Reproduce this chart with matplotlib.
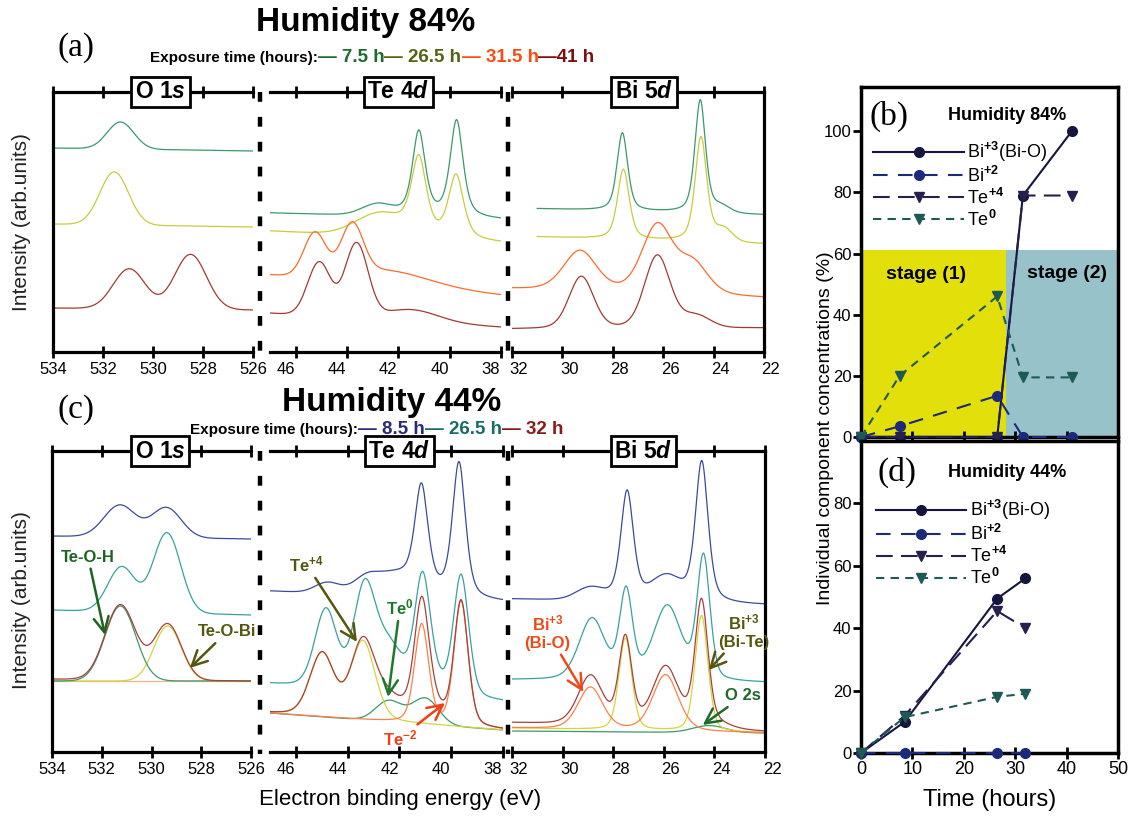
import numpy as np
import matplotlib
matplotlib.use('Agg')
import matplotlib.pyplot as plt
import matplotlib.transforms as mtransforms
from matplotlib.lines import Line2D

plt.rcParams['font.family'] = ['Liberation Sans', 'DejaVu Sans']
plt.rcParams['mathtext.fontset'] = 'custom'
plt.rcParams['mathtext.rm'] = 'Liberation Sans:bold'
plt.rcParams['mathtext.it'] = 'Liberation Sans:bold:italic'
plt.rcParams['mathtext.bf'] = 'Liberation Sans:bold'

# ---------------- data ----------------
# spectra: background (left, right) and peaks [position eV, amplitude, FWHM eV, lorentz fraction]
# (a) Humidity 84 %  (times 7.5, 26.5, 31.5, 41 h)
o1s_a_75_bg = [204, 201]
o1s_a_75_pk = [[531.3, 27, 1.25, 0.0]]
o1s_a_265_bg = [128, 125]
o1s_a_265_pk = [[531.55, 53, 1.35, 0.0]]
o1s_a_41_bg = [44, 42]
o1s_a_41_pk = [[530.95, 40, 1.5, 0.0], [528.5, 55, 1.5, 0.0]]

te_a_75_bg = [139, 132]
te_a_75_pk = [[42.8, 11, 1.4, 0.0], [41.2, 85, 0.6, 0.6], [39.73, 97, 0.6, 0.6]]
te_a_265_bg = [121, 109]
te_a_265_pk = [[42.7, 22, 2.2, 0.0], [41.2, 76, 0.7, 0.6], [39.75, 64, 0.7, 0.6]]
te_a_315_bg = [77, 57]
te_a_315_pk = [[45.25, 43, 1.0, 0.0], [43.8, 49, 1.0, 0.0], [42.5, 15, 4.0, 0.0]]
te_a_41_bg = [39, 25]
te_a_41_pk = [[45.08, 54, 1.05, 0.0], [43.63, 74, 1.05, 0.0], [41.5, 12, 2.5, 0.0]]

bi_a_75_bg = [144, 137]
bi_a_75_pk = [[27.62, 78, 0.5, 0.5], [24.53, 113, 0.5, 0.5], [23.7, 6, 0.8, 0.0]]
bi_a_265_bg = [116, 108]
bi_a_265_pk = [[27.58, 70, 0.55, 0.5], [24.5, 105, 0.55, 0.5], [23.6, 12, 0.8, 0.0]]
bi_a_315_bg = [63, 54]
bi_a_315_pk = [[29.3, 40, 1.55, 0.3], [26.23, 68, 1.45, 0.3], [24.8, 30, 1.4, 0.3]]
bi_a_41_bg = [23, 24]
bi_a_41_pk = [[29.25, 52, 1.15, 0.2], [26.23, 73, 1.2, 0.2], [24.7, 12, 1.3, 0.0]]
bi_a_start = 31.0

# (c) Humidity 44 %  (times 8.5, 26.5, 32 h) + fitted components of 32 h
o1s_c_85_bg = [216, 213]
o1s_c_85_pk = [[531.27, 32, 1.5, 0.0], [529.4, 30, 1.4, 0.0]]
o1s_c_265_bg = [142, 137]
o1s_c_265_pk = [[531.2, 45, 1.3, 0.0], [529.38, 80, 1.3, 0.0]]
o1s_c_32_bg = [73, 71]
o1s_c_32_pk = [[531.25, 75, 1.45, 0.0], [529.35, 56, 1.3, 0.0]]
o1s_fit_bg = [71, 71]
o1s_teoh_pk = [[531.25, 75, 1.45, 0.0]]
o1s_teobi_pk = [[529.35, 55, 1.3, 0.0]]

te_c_85_bg = [161, 150]
te_c_85_pk = [[44.8, 10, 1.1, 0.0], [43.3, 8, 1.0, 0.0], [42.2, 22, 2.5, 0.0],
              [41.15, 99, 0.6, 0.5], [39.7, 135, 0.6, 0.5]]
te_c_265_bg = [68, 50]
te_c_265_pk = [[44.84, 78, 1.0, 0.2], [43.35, 102, 1.0, 0.2], [42.4, 43, 1.2, 0.0],
               [41.0, 20, 1.2, 0.0], [41.11, 100, 0.7, 0.3], [39.62, 122, 0.7, 0.3]]
te_fit_bg = [39, 22]
te_p4_pk = [[44.99, 63, 1.1, 0.2], [43.41, 78, 1.1, 0.2]]
te_0_pk = [[42.4, 21, 1.2, 0.0], [41.0, 26, 1.2, 0.0]]
te_m2_pk = [[41.14, 99, 0.64, 0.3], [39.62, 125, 0.64, 0.3]]

bi_c_85_bg = [153, 147]
bi_c_85_pk = [[28.9, 12, 1.3, 0.0], [27.45, 110, 0.6, 0.5], [25.9, 24, 1.4, 0.0], [24.5, 141, 0.6, 0.5]]
bi_c_265_bg = [72, 69]
bi_c_265_pk = [[28.84, 61, 1.2, 0.3], [27.49, 87, 0.6, 0.3], [25.86, 74, 1.3, 0.3], [24.43, 123, 0.6, 0.3]]
bi_c_32_bg = [29, 20]
bi_c_32_pk = [[28.9, 49, 1.15, 0.3], [27.52, 87, 0.6, 0.3], [25.93, 60, 1.2, 0.3],
              [24.51, 122, 0.6, 0.3], [24.2, 6, 1.5, 0.0]]
bi_fit_bg = [24, 19]
bi_bio_pk = [[28.9, 42, 1.15, 0.3], [25.93, 56, 1.2, 0.3]]
bi_bite_pk = [[27.52, 92, 0.6, 0.3], [24.51, 116, 0.6, 0.3]]
o2s_bg = [21, 19]
o2s_pk = [[24.2, 7, 1.5, 0.0]]

# (b) / (d) component concentrations (%)
b_time = [0, 7.5, 26.5, 31.5, 41]
b_bi3 = [0, 0, 0, 79, 100]
b_bi2 = [0, 3.5, 13.5, 0, 0]
b_te4 = [0, 0, 0, 79, 79]
b_te0 = [0, 20, 46, 19.5, 19.5]
stage_split = 28.2
stage_top = 61.3

d_time = [0, 8.5, 26.5, 32]
d_bi3 = [0, 10, 49.5, 56]
d_bi2 = [0, 0, 0, 0]
d_te4 = [0, 12, 45.5, 40]
d_te0 = [0, 11.5, 18, 19]

comp_labels = ['Bi$^{+3}$(Bi-O)', 'Bi$^{+2}$', 'Te$^{+4}$', 'Te$^{0}$']
o1s_ticks = [534, 532, 530, 528, 526]
te_ticks = [46, 44, 42, 40, 38]
bi_ticks = [32, 30, 28, 26, 24, 22]

# ---------------- figure ----------------
W, H = 1130, 817
fig = plt.figure(figsize=(W / 100, H / 100), dpi=100)


def px_rect(x0, y0, x1, y1):
    return [x0 / W, 1 - y1 / H, (x1 - x0) / W, (y1 - y0) / H]


def pv(E, peaks):
    y = np.zeros_like(E)
    for c, a, w, eta in peaks:
        d = (E - c) / w
        y += a * (eta / (1 + 4 * d ** 2) + (1 - eta) * np.exp(-4 * np.log(2) * d ** 2))
    return y


def spectrum(ax, bg, peaks, color, lw=0.9, start=None):
    x0, x1 = ax.get_xlim()
    hi = x0 if start is None else start
    E = np.linspace(x1, hi, 900)
    base = bg[1] + (bg[0] - bg[1]) * (E - x1) / (x0 - x1)
    ax.plot(E, base + pv(E, peaks), color=color, lw=lw)


def spec_axes(rect, xlim, ylim, ticks, left, right, title, title_x, label_dx=0):
    ax = fig.add_axes(rect)
    ax.set_xlim(*xlim)
    ax.set_ylim(*ylim)
    ax.set_xticks(ticks)
    ax.set_yticks([])
    ax.tick_params(axis='x', direction='inout', length=9, width=2, top=True,
                   labeltop=False, labelsize=12, pad=3)
    for s in ['top', 'bottom', 'left', 'right']:
        ax.spines[s].set_linewidth(2.3)
    ax.spines['left'].set_visible(left)
    ax.spines['right'].set_visible(right)
    ax.patch.set_alpha(0)
    if label_dx:
        off = mtransforms.ScaledTranslation(label_dx / 100, 0, fig.dpi_scale_trans)
        for lab in ax.get_xticklabels():
            lab.set_transform(lab.get_transform() + off)
    ax.text(title_x, 1.0, title, transform=ax.get_xaxis_transform(), ha='center', va='center',
            fontsize=16.5, fontweight='bold', zorder=10,
            bbox=dict(boxstyle='square,pad=0.16', fc='white', ec='black', lw=2))
    return ax


def separator(x, y0, y1):
    fig.add_artist(Line2D([x / W, x / W], [1 - y0 / H, 1 - y1 / H], transform=fig.transFigure,
                          lw=3.2, ls=(0, (2.2, 3.4)), color='black'))


def note(ax, text, xy, xytext, color):
    ax.annotate(text, xy=xy, xytext=xytext, color=color, fontsize=12, fontweight='bold',
                ha='center', va='center', multialignment='center', annotation_clip=False,
                arrowprops=dict(arrowstyle='->,head_length=0.9,head_width=0.45', color=color,
                                lw=1.8, shrinkA=1, shrinkB=0))


A_COL = ['#3a9a6c', '#c9cc3c', '#ff6a2a', '#a23a32']
C_COL = ['#3a4b9e', '#3aa0a0', '#a8403c']
YEL = '#d4d43c'
GRN = '#3a9a6a'
ORG = '#ff7f45'

# ----- (a) row -----
ya0, ya1 = 92, 352
ax_o_a = spec_axes(px_rect(53, ya0, 253, ya1), (534, 526), (0, 260), o1s_ticks, True, False, 'O 1$s$', 529.7)
ax_t_a = spec_axes(px_rect(270, ya0, 501, ya1), (47, 38), (0, 260), te_ticks, False, False, 'Te 4$d$', 42.0, -10)
ax_b_a = spec_axes(px_rect(512, ya0, 764, ya1), (32, 22), (0, 260), bi_ticks, False, True, 'Bi 5$d$', 26.75, 7)

spectrum(ax_o_a, o1s_a_75_bg, o1s_a_75_pk, A_COL[0])
spectrum(ax_o_a, o1s_a_265_bg, o1s_a_265_pk, A_COL[1])
spectrum(ax_o_a, o1s_a_41_bg, o1s_a_41_pk, A_COL[3])

spectrum(ax_t_a, te_a_75_bg, te_a_75_pk, A_COL[0])
spectrum(ax_t_a, te_a_265_bg, te_a_265_pk, A_COL[1])
spectrum(ax_t_a, te_a_315_bg, te_a_315_pk, A_COL[2])
spectrum(ax_t_a, te_a_41_bg, te_a_41_pk, A_COL[3])

spectrum(ax_b_a, bi_a_75_bg, bi_a_75_pk, A_COL[0], start=bi_a_start)
spectrum(ax_b_a, bi_a_265_bg, bi_a_265_pk, A_COL[1], start=bi_a_start)
spectrum(ax_b_a, bi_a_315_bg, bi_a_315_pk, A_COL[2])
spectrum(ax_b_a, bi_a_41_bg, bi_a_41_pk, A_COL[3])

separator(260, ya0, ya1 + 2)
separator(507.5, ya0, ya1 + 2)

# ----- (c) row -----
yc0, yc1 = 451, 752
ax_o_c = spec_axes(px_rect(52, yc0, 251, yc1), (534, 526), (0, 301), o1s_ticks, True, False, 'O 1$s$', 529.66)
ax_t_c = spec_axes(px_rect(270, yc0, 503, yc1), (47, 38), (0, 301), te_ticks, False, False, 'Te 4$d$', 42.0, -10)
ax_b_c = spec_axes(px_rect(512, yc0, 765, yc1), (32, 22), (0, 301), bi_ticks, False, True, 'Bi 5$d$', 26.8, 7)

spectrum(ax_o_c, o1s_c_85_bg, o1s_c_85_pk, C_COL[0])
spectrum(ax_o_c, o1s_c_265_bg, o1s_c_265_pk, C_COL[1])
spectrum(ax_o_c, o1s_fit_bg, [], '#f4b090', lw=0.9)
spectrum(ax_o_c, o1s_fit_bg, o1s_teobi_pk, YEL)
spectrum(ax_o_c, o1s_fit_bg, o1s_teoh_pk, GRN)
spectrum(ax_o_c, o1s_c_32_bg, o1s_c_32_pk, C_COL[2])

spectrum(ax_t_c, te_c_85_bg, te_c_85_pk, C_COL[0])
spectrum(ax_t_c, te_c_265_bg, te_c_265_pk, C_COL[1])
spectrum(ax_t_c, te_fit_bg, te_0_pk, GRN)
spectrum(ax_t_c, te_fit_bg, te_p4_pk, YEL)
spectrum(ax_t_c, te_fit_bg, te_m2_pk, ORG)
spectrum(ax_t_c, te_fit_bg, te_p4_pk + te_0_pk + te_m2_pk, C_COL[2])

spectrum(ax_b_c, bi_c_85_bg, bi_c_85_pk, C_COL[0])
spectrum(ax_b_c, bi_c_265_bg, bi_c_265_pk, C_COL[1])
spectrum(ax_b_c, o2s_bg, o2s_pk, GRN)
spectrum(ax_b_c, bi_fit_bg, bi_bite_pk, YEL)
spectrum(ax_b_c, bi_fit_bg, bi_bio_pk, ORG)
spectrum(ax_b_c, bi_c_32_bg, bi_c_32_pk, C_COL[2])

separator(260, yc0, yc1 + 2)
separator(507.5, yc0, yc1 + 2)

note(ax_o_c, 'Te-O-H', (531.87, 117), (532.55, 195), '#1e6420')
note(ax_o_c, 'Te-O-Bi', (528.46, 84), (526.97, 120), '#55570f')
note(ax_t_c, 'Te$^{+4}$', (43.64, 110), (45.6, 188), '#55570f')
note(ax_t_c, 'Te$^{0}$', (42.44, 55), (41.98, 145), '#1e7a2a')
note(ax_t_c, 'Te$^{-2}$', (40.24, 49), (41.98, 14), '#ee4018')
note(ax_b_c, 'Bi$^{+3}$\n(Bi-O)', (29.18, 60), (30.6, 120), '#ee4a18')
note(ax_b_c, 'Bi$^{+3}$\n(Bi-Te)', (24.22, 82), (22.83, 121), '#55570f')
note(ax_b_c, 'O 2s', (24.46, 27), (22.87, 56), '#1e6a2a')

# ----- headers -----
def header_line(x_px, y_px, pieces):
    renderer = fig.canvas.get_renderer()
    x = x_px
    for txt, col, size in pieces:
        t = fig.text(x / W, 1 - y_px / H, txt, color=col, fontsize=size, fontweight='bold',
                     ha='left', va='center')
        x = t.get_window_extent(renderer=renderer).x1


fig.text(366 / W, 1 - 23 / H, 'Humidity 84%', fontsize=24, fontweight='bold', ha='center', va='center')
fig.text(392 / W, 1 - 403 / H, 'Humidity 44%', fontsize=24, fontweight='bold', ha='center', va='center')
fig.text(76 / W, 1 - 48 / H, '(a)', fontsize=24, family='Liberation Serif', ha='center', va='center')
fig.text(76 / W, 1 - 410 / H, '(c)', fontsize=24, family='Liberation Serif', ha='center', va='center')
header_line(150, 58, [('Exposure time (hours):', 'black', 11),
                      ('— 7.5 h', '#1d6b2c', 13.5), ('— 26.5 h', '#566214', 13.5),
                      ('— 31.5 h', '#ff4a12', 13.5), ('—41 h', '#7e0f0f', 13.5)])
header_line(190, 430, [('Exposure time (hours):', 'black', 11),
                       ('— 8.5 h', '#2a2a78', 13.5), ('— 26.5 h', '#1a6a66', 13.5),
                       ('— 32 h', '#8a1a1a', 13.5)])

fig.text(22 / W, 1 - 222 / H, 'Intensity (arb.units)', rotation=90, fontsize=15, color='#222222',
         ha='center', va='center')
fig.text(22 / W, 1 - 600 / H, 'Intensity (arb.units)', rotation=90, fontsize=15, color='#222222',
         ha='center', va='center')
fig.text(400 / W, 1 - 800 / H, 'Electron binding energy (eV)', fontsize=16, ha='center', va='center')

# ----- (b) and (d) -----
c_bi3, c_bi2, c_te4, c_te0 = '#151540', '#1b2a7a', '#25204f', '#1e5a55'
styles = [dict(color=c_bi3, ls='-', marker='o'),
          dict(color=c_bi2, ls=(0, (7, 5)), marker='o'),
          dict(color=c_te4, ls=(0, (8, 4)), marker='v'),
          dict(color=c_te0, ls=(0, (4, 3)), marker='v')]


def conc_axes(rect, ylim, yticks, xlabels):
    ax = fig.add_axes(rect)
    ax.set_xlim(0, 50)
    ax.set_ylim(*ylim)
    ax.set_xticks([0, 10, 20, 30, 40, 50])
    ax.set_yticks(yticks)
    ax.tick_params(axis='x', direction='inout', length=8, width=2, labelsize=13,
                   labelbottom=xlabels, pad=2)
    ax.tick_params(axis='y', direction='out', length=6, width=2, labelsize=12, pad=1)
    for s in ax.spines.values():
        s.set_linewidth(2.5)
    return ax


axb = conc_axes(px_rect(861, 87, 1118, 437), (0, 114.5), [0, 20, 40, 60, 80, 100], False)
axb.fill_between([0, stage_split], 0, stage_top, color='#e3df0a', lw=0, zorder=0)
axb.fill_between([stage_split, 50], 0, stage_top, color='#98c2c9', lw=0, zorder=0)
handles = []
for vals, st in zip([b_bi3, b_bi2, b_te4, b_te0], styles):
    ln, = axb.plot(b_time, vals, lw=1.5, ms=7, clip_on=False, zorder=3, **st)
    handles.append(ln)
axb.legend(handles, comp_labels, loc='upper left', bbox_to_anchor=(0.02, 0.87), frameon=False,
           fontsize=13, handlelength=5.0, handletextpad=0.2, labelspacing=0.1, borderaxespad=0)
axb.text(0.11, 0.915, '(b)', transform=axb.transAxes, fontsize=24, family='Liberation Serif',
         ha='center', va='center')
axb.text(0.57, 0.92, 'Humidity 84%', transform=axb.transAxes, fontsize=13, fontweight='bold',
         ha='center', va='center')
axb.text(0.255, 0.465, 'stage (1)', transform=axb.transAxes, fontsize=14, fontweight='bold',
         ha='center', va='center')
axb.text(0.8, 0.468, 'stage (2)', transform=axb.transAxes, fontsize=14, fontweight='bold',
         ha='center', va='center')

axd = conc_axes(px_rect(861, 441, 1118, 753), (0, 100), [0, 20, 40, 60, 80], True)
handles = []
for vals, st in zip([d_bi3, d_bi2, d_te4, d_te0], styles):
    ln, = axd.plot(d_time, vals, lw=1.5, ms=7, clip_on=False, zorder=3, **st)
    handles.append(ln)
axd.legend(handles, comp_labels, loc='upper left', bbox_to_anchor=(0.03, 0.84), frameon=False,
           fontsize=13, handlelength=5.0, handletextpad=0.2, labelspacing=0.1, borderaxespad=0)
axd.text(0.14, 0.9, '(d)', transform=axd.transAxes, fontsize=24, family='Liberation Serif',
         ha='center', va='center')
axd.text(0.57, 0.9, 'Humidity 44%', transform=axd.transAxes, fontsize=13, fontweight='bold',
         ha='center', va='center')

fig.text(826 / W, 1 - 428 / H, 'Individual component concentrations (%)', rotation=90, fontsize=14,
         ha='center', va='center')
fig.text(990 / W, 1 - 800 / H, 'Time (hours)', fontsize=17, ha='center', va='center')

fig.savefig('out.png', dpi=100)
